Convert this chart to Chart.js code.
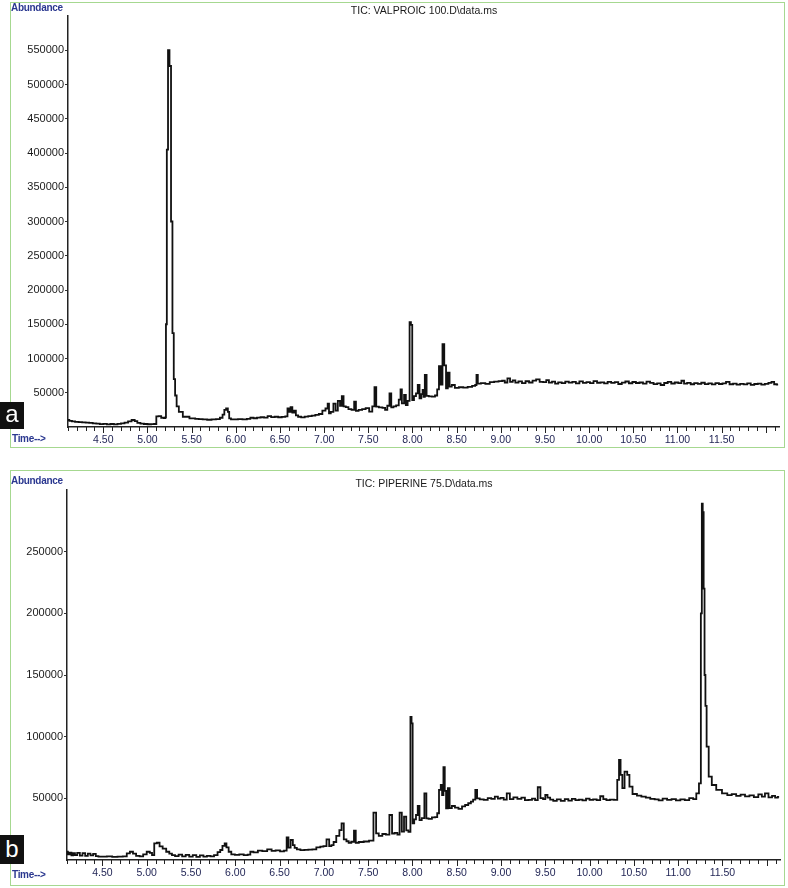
<!DOCTYPE html>
<html lang="en">
<head>
    <meta charset="UTF-8">
    <title>TIC chromatograms</title>
    <script src="https://cdn.jsdelivr.net/npm/chart.js"></script>
    <style>
        body {
            margin: 0;
            background: #ffffff;
            font-family: 'Liberation Sans', Arial, sans-serif;
        }
        .page {
            position: relative;
            width: 788px;
            height: 888px;
            overflow: hidden;
        }
        .frame {
            position: absolute;
            left: 10px;
            width: 775px;
            border: 1.5px solid #a6d890;
            box-sizing: border-box;
        }
        canvas.plot {
            position: absolute;
            left: 0;
        }
        .txt {
            position: absolute;
            white-space: nowrap;
            line-height: 1;
        }
        .axis-name {
            color: #2b3890;
            font-size: 10px;
            font-weight: bold;
            letter-spacing: -0.3px;
        }
        .title {
            color: #1a1a1a;
            font-size: 10.5px;
            transform: translateX(-50%);
        }
        .tag {
            position: absolute;
            left: 0;
            width: 24px;
            background: #111;
            color: #fff;
            font-size: 24px;
            text-align: center;
        }
    </style>
</head>
<body>
<div class="page">
    <div class="frame" style="top:2px; height:446px;"></div>
    <div class="frame" style="top:470px; height:416px;"></div>

    <div style="position:absolute; left:0; top:0; width:788px; height:450px;">
        <canvas id="chartA" class="plot"></canvas>
    </div>
    <div style="position:absolute; left:0; top:460px; width:788px; height:428px;">
        <canvas id="chartB" class="plot"></canvas>
    </div>

    <div class="txt axis-name" style="left:11px; top:3px;">Abundance</div>
    <div class="txt title" style="left:424px; top:5px;">TIC: VALPROIC 100.D\data.ms</div>
    <div class="txt axis-name" style="left:12px; top:434px;">Time--&gt;</div>
    <div class="tag" style="top:402px; height:27px; line-height:24px;">a</div>

    <div class="txt axis-name" style="left:11px; top:476px;">Abundance</div>
    <div class="txt title" style="left:424px; top:478px;">TIC: PIPERINE 75.D\data.ms</div>
    <div class="txt axis-name" style="left:12px; top:870px;">Time--&gt;</div>
    <div class="tag" style="top:835px; height:29px; line-height:27px;">b</div>
</div>

<script>
    // retention time (min) and abundance, panel a (valproic acid)
    const timeA = [
        4.10, 4.13, 4.16, 4.20, 4.24, 4.28, 4.32, 4.36, 4.40, 4.44, 4.48, 4.52, 4.56, 4.60, 4.64, 4.68,
        4.72, 4.76, 4.80, 4.84, 4.87, 4.90, 4.94, 4.98, 5.02, 5.06, 5.09, 5.11, 5.14, 5.17, 5.20, 5.205,
        5.213, 5.225, 5.240, 5.258, 5.275, 5.29, 5.305, 5.32, 5.34, 5.37, 5.43, 5.52, 5.56, 5.60, 5.65, 5.70,
        5.75, 5.80, 5.84, 5.86, 5.88, 5.90, 5.92, 5.93, 5.96, 6.00, 6.05, 6.10, 6.15, 6.18, 6.22, 6.26,
        6.30, 6.34, 6.38, 6.42, 6.46, 6.50, 6.54, 6.58, 6.59, 6.61, 6.63, 6.65, 6.67, 6.69, 6.72, 6.76,
        6.80, 6.84, 6.88, 6.92, 6.96, 7.00, 7.03, 7.05, 7.06, 7.09, 7.12, 7.14, 7.17, 7.19, 7.21, 7.23,
        7.26, 7.29, 7.33, 7.35, 7.37, 7.41, 7.45, 7.49, 7.53, 7.56, 7.58, 7.60, 7.64, 7.68, 7.70, 7.73,
        7.75, 7.77, 7.80, 7.83, 7.86, 7.87, 7.89, 7.92, 7.93, 7.96, 7.975, 7.99, 8.005, 8.03, 8.05, 8.07,
        8.09, 8.11, 8.12, 8.13, 8.15, 8.17, 8.20, 8.24, 8.27, 8.29, 8.31, 8.33, 8.35, 8.37, 8.39, 8.41,
        8.43, 8.46, 8.50, 8.55, 8.60, 8.65, 8.70, 8.72, 8.73, 8.75, 8.80, 8.85, 8.90, 8.95, 9.00, 9.03,
        9.06, 9.09, 9.12, 9.15, 9.18, 9.22, 9.26, 9.30, 9.34, 9.38, 9.42, 9.46, 9.50, 9.53, 9.56, 9.60,
        9.63, 9.67, 9.71, 9.75, 9.79, 9.83, 9.87, 9.91, 9.95, 9.99, 10.03, 10.07, 10.11, 10.15, 10.19, 10.23,
        10.27, 10.31, 10.35, 10.39, 10.43, 10.47, 10.51, 10.55, 10.59, 10.63, 10.67, 10.71, 10.75, 10.79, 10.83, 10.87,
        10.91, 10.95, 10.99, 11.03, 11.06, 11.09, 11.13, 11.17, 11.21, 11.25, 11.29, 11.33, 11.37, 11.41, 11.45, 11.49,
        11.53, 11.57, 11.61, 11.65, 11.69, 11.73, 11.77, 11.81, 11.85, 11.89, 11.93, 11.97, 12.01, 12.05, 12.08, 12.11,
        12.14
    ];
    const abundA = [
        10200, 8800, 8200, 7600, 7000, 6800, 6300, 6000, 5400, 4800, 4200, 4500, 3900, 4400, 3800, 4600,
        5200, 6400, 8200, 10200, 8600, 6000, 4800, 4400, 4000, 4200, 4400, 15500, 16000, 13500, 13000, 14000,
        150000, 405000, 550000, 527000, 300000, 137000, 70000, 46000, 30000, 22000, 15000, 12600, 12000, 11400, 11000, 10600,
        11200, 11600, 13500, 18000, 25000, 27000, 22000, 12500, 11200, 11000, 11600, 11200, 12000, 13500, 12800, 13800,
        14200, 13600, 16000, 14400, 15000, 14200, 14800, 15500, 27000, 22000, 29000, 21000, 24000, 17000, 15000, 14000,
        15200, 15800, 16500, 17800, 19000, 24000, 27000, 34000, 20000, 22000, 34000, 24000, 38000, 31000, 45000, 30000,
        29000, 26000, 25000, 37000, 23500, 25000, 26000, 27500, 22300, 30000, 58000, 29700, 28700, 28000, 25000, 31000,
        49000, 28700, 30000, 31500, 40000, 55000, 34600, 46700, 32000, 38000, 153000, 149000, 39400, 45000, 49000, 61300,
        41800, 48000, 54000, 44000, 75900, 45300, 44800, 44300, 46000, 55000, 89000, 62000, 121000, 90000, 56500, 79300,
        58900, 61300, 57000, 58000, 57500, 58500, 60000, 61300, 75900, 63300, 64000, 63000, 65500, 66200, 67000, 67500,
        65000, 71000, 66000, 68000, 64700, 66500, 64000, 66800, 65000, 67600, 69600, 66000, 65400, 68500, 64800, 66200,
        63300, 65200, 64000, 66300, 64700, 65800, 63600, 66700, 64300, 65600, 64000, 66900, 64600, 65200, 63800, 66000,
        64400, 65500, 62800, 64800, 66400, 63900, 65700, 64200, 65000, 63400, 66200, 64400, 62700, 63800, 61300, 64200,
        66000, 63500, 65000, 64100, 67500, 63200, 64500, 62400, 64000, 63100, 64600, 62600, 63800, 62200, 64000, 62800,
        63600, 66000, 62400, 63200, 61800, 63000, 62200, 63600, 61600, 62800, 63400, 61900, 63000, 64400, 65800, 62400,
        61800
    ];

    // retention time (min) and abundance, panel b (piperine)
    const timeB = [
        4.10, 4.12, 4.14, 4.16, 4.18, 4.20, 4.23, 4.26, 4.29, 4.32, 4.35, 4.38, 4.41, 4.44, 4.47, 4.52,
        4.58, 4.64, 4.70, 4.76, 4.79, 4.83, 4.86, 4.90, 4.94, 4.98, 5.02, 5.05, 5.07, 5.10, 5.13, 5.16,
        5.20, 5.24, 5.27, 5.30, 5.34, 5.38, 5.42, 5.46, 5.50, 5.54, 5.58, 5.62, 5.66, 5.70, 5.74, 5.78,
        5.82, 5.84, 5.87, 5.89, 5.91, 5.94, 5.97, 6.02, 6.07, 6.12, 6.16, 6.18, 6.23, 6.28, 6.33, 6.39,
        6.43, 6.48, 6.53, 6.57, 6.59, 6.61, 6.64, 6.66, 6.68, 6.71, 6.76, 6.80, 6.85, 6.89, 6.94, 6.98,
        7.01, 7.05, 7.07, 7.10, 7.12, 7.16, 7.19, 7.21, 7.24, 7.27, 7.29, 7.33, 7.35, 7.37, 7.42, 7.48,
        7.54, 7.58, 7.60, 7.64, 7.68, 7.72, 7.76, 7.78, 7.82, 7.84, 7.87, 7.89, 7.92, 7.94, 7.97, 7.985,
        7.995, 8.01, 8.03, 8.05, 8.07, 8.09, 8.12, 8.15, 8.165, 8.20, 8.24, 8.27, 8.29, 8.31, 8.33, 8.34,
        8.36, 8.37, 8.39, 8.41, 8.43, 8.46, 8.50, 8.54, 8.58, 8.61, 8.65, 8.67, 8.70, 8.72, 8.74, 8.78,
        8.83, 8.87, 8.91, 8.95, 8.98, 9.01, 9.05, 9.08, 9.12, 9.16, 9.21, 9.25, 9.29, 9.33, 9.37, 9.40,
        9.43, 9.46, 9.49, 9.51, 9.54, 9.57, 9.61, 9.65, 9.70, 9.74, 9.78, 9.82, 9.86, 9.90, 9.94, 9.98,
        10.02, 10.06, 10.10, 10.14, 10.17, 10.21, 10.25, 10.30, 10.325, 10.34, 10.36, 10.38, 10.41, 10.44, 10.46, 10.51,
        10.56, 10.61, 10.66, 10.71, 10.76, 10.80, 10.85, 10.90, 10.95, 11.00, 11.05, 11.10, 11.15, 11.19, 11.22, 11.25,
        11.263, 11.272, 11.283, 11.293, 11.303, 11.313, 11.33, 11.36, 11.40, 11.46, 11.53, 11.58, 11.63, 11.68, 11.73, 11.78,
        11.83, 11.88, 11.93, 11.96, 12.00, 12.04, 12.08, 12.11, 12.14
    ];
    const abundB = [
        6700, 4500, 6000, 3800, 5600, 4000, 5800, 3600, 5500, 3400, 5200, 3800, 4900, 3200, 2800, 2700,
        2900, 2600, 2800, 3000, 5400, 6700, 5200, 3400, 2900, 4600, 6700, 5800, 4000, 13500, 14000, 11000,
        9200, 6700, 5200, 4000, 3200, 4400, 3000, 4200, 2800, 4000, 2600, 3800, 2800, 3400, 2900, 4000,
        6400, 8100, 11500, 13500, 10300, 6700, 4500, 4200, 4600, 4000, 4400, 6700, 6200, 7600, 7200, 8600,
        7400, 7800, 7000, 7600, 18400, 10000, 16200, 12000, 9800, 8600, 8000, 8200, 8400, 8600, 10300, 10800,
        11300, 16800, 11300, 12000, 14600, 19500, 24300, 29700, 16800, 15200, 14000, 14800, 23800, 14000, 14600, 15000,
        15700, 38400, 21600, 19500, 21100, 20500, 36500, 21500, 22000, 20500, 38400, 23000, 35100, 24000, 22800, 116000,
        110800, 29700, 33000, 36500, 43800, 32400, 34000, 54100, 33800, 33300, 34500, 34800, 37900, 56800, 60800, 52700,
        75200, 56000, 41900, 58200, 42000, 43800, 42500, 41500, 43500, 44600, 46000, 47300, 49000, 56800, 50000, 49200,
        48700, 50200, 49500, 51400, 49800, 50400, 49000, 54100, 49300, 50800, 49600, 50500, 48600, 48700, 49800, 48500,
        59000, 50200, 49400, 52700, 50600, 49000, 48000, 49200, 48000, 49400, 48200, 49600, 48600, 49000, 48400, 49800,
        48800, 49200, 48600, 51700, 49400, 48600, 49000, 48700, 64900, 81100, 69000, 58200, 71600, 69000, 59500, 53500,
        52200, 51400, 50600, 49600, 49200, 48400, 49800, 48800, 49400, 48400, 49200, 48600, 50200, 49400, 54100, 62200,
        200000, 289000, 282000, 220000, 150000, 125000, 92000, 67600, 60800, 56800, 54100, 52600, 53400, 52000, 53000, 51600,
        52400, 51000, 53200, 51400, 54100, 50800, 52000, 50500, 51200
    ];

    const timeMin = 4.10;
    const timeMax = 12.15;
    const labelStep = 0.5;
    const minorStep = 0.1;
    const abundStep = 50000;

    // minor / major tick marks under the time axis, placed through the x scale
    const timeTicks = {
        id: 'timeTicks',
        afterDraw(chart) {
            const xs = chart.scales.x;
            const ctx = chart.ctx;
            const y0 = chart.chartArea.bottom;
            ctx.save();
            ctx.strokeStyle = '#222';
            ctx.lineWidth = 1;
            const first = Math.ceil(xs.min / minorStep - 1e-6);
            const last = Math.floor(xs.max / minorStep + 1e-6);
            for (let k = first; k <= last; k++) {
                const px = Math.round(xs.getPixelForValue(k * minorStep)) + 0.5;
                const len = k % 5 === 0 ? 6 : 4;
                ctx.beginPath();
                ctx.moveTo(px, y0);
                ctx.lineTo(px, y0 + len);
                ctx.stroke();
            }
            ctx.restore();
        }
    };

    function makeChart(id, times, values, yMax, box) {
        const ctx = document.getElementById(id).getContext('2d');
        const points = times.map((t, i) => ({ x: t, y: values[i] }));
        return new Chart(ctx, {
            type: 'line',
            data: {
                datasets: [{
                    data: points,
                    borderColor: '#111',
                    borderWidth: 1.8,
                    pointRadius: 0,
                    stepped: 'middle',
                    fill: false
                }]
            },
            plugins: [timeTicks],
            options: {
                responsive: true,
                maintainAspectRatio: false,
                animation: false,
                events: [],
                layout: { padding: { left: 0, right: box.right, top: box.top, bottom: 0 } },
                plugins: {
                    legend: { display: false },
                    tooltip: { enabled: false }
                },
                scales: {
                    x: {
                        type: 'linear',
                        min: timeMin,
                        max: timeMax,
                        afterFit: s => { s.height = box.xHeight; },
                        border: { display: true, color: '#222', width: 1.5 },
                        grid: { display: true, drawOnChartArea: false, drawTicks: false },
                        ticks: {
                            stepSize: labelStep,
                            includeBounds: false,
                            autoSkip: false,
                            maxRotation: 0,
                            padding: 7,
                            color: '#1d2152',
                            font: { family: "'Liberation Sans', Arial, sans-serif", size: 10.5 },
                            callback: v => (v > 11.9 ? '' : Number(v).toFixed(2))
                        }
                    },
                    y: {
                        type: 'linear',
                        min: 0,
                        max: yMax,
                        afterFit: s => { s.width = box.yWidth; },
                        border: { display: true, color: '#222', width: 1.5 },
                        grid: {
                            display: true,
                            drawOnChartArea: false,
                            drawTicks: true,
                            tickLength: 3,
                            tickColor: c => (c.tick && (c.tick.value === 0 || c.tick.value === yMax) ? 'rgba(0,0,0,0)' : '#333')
                        },
                        ticks: {
                            stepSize: abundStep,
                            padding: 1,
                            color: '#1a1a1a',
                            font: { family: "'Liberation Sans', Arial, sans-serif", size: 11 },
                            callback: v => (v === 0 || v === yMax ? '' : String(v))
                        }
                    }
                }
            }
        });
    }

    makeChart('chartA', timeA, abundA, 600000, { top: 16, right: 9, yWidth: 68, xHeight: 23 });
    makeChart('chartB', timeB, abundB, 300000, { top: 30, right: 8, yWidth: 67, xHeight: 28 });
</script>
</body>
</html>
